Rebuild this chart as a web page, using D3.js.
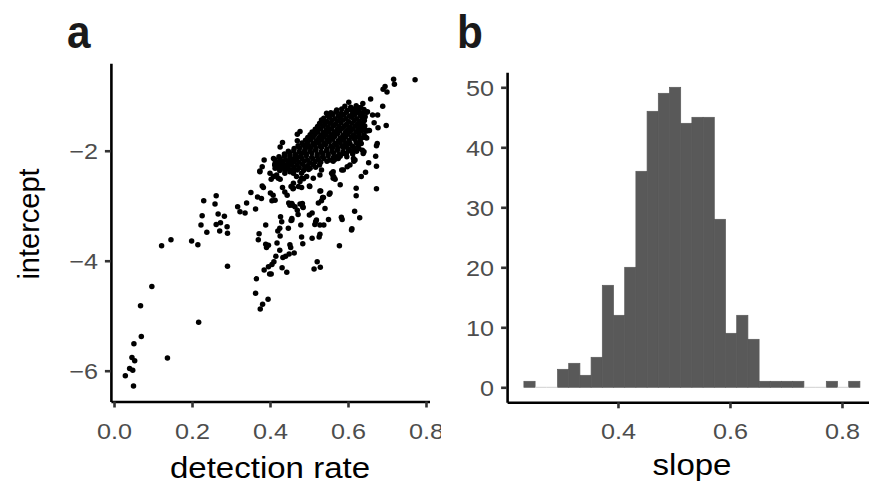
<!DOCTYPE html>
<html><head><meta charset="utf-8">
<script src="https://cdn.jsdelivr.net/npm/d3@7"></script>
<style>body{margin:0;background:#fff}svg{display:block}</style>
</head><body>
<svg id="c" width="869" height="485"></svg>
<script>
// ---------- DATA ----------
// panel a: detection rate vs intercept (sparse outer points)
const tailPoints = [
[0.029,-6.09],[0.050,-6.28],[0.040,-5.96],[0.048,-5.99],[0.046,-5.76],[0.053,-5.82],[0.051,-5.51],[0.070,-5.38],[0.137,-5.77],[0.068,-4.82],[0.097,-4.47],[0.217,-5.12],[0.122,-3.73],[0.146,-3.62],[0.199,-3.64],[0.215,-3.71],[0.238,-3.48],[0.271,-3.46],[0.291,-3.50],[0.291,-4.10]
];
const lowerPoints = [
[0.372,-3.51],[0.370,-3.62],[0.389,-3.70],[0.396,-3.72],[0.391,-3.76],[0.418,-3.68],[0.425,-3.81],[0.420,-3.46],[0.426,-3.55],[0.451,-3.71],[0.453,-3.76],[0.481,-3.57],[0.484,-3.69],[0.508,-3.59],[0.528,-3.52],[0.526,-3.57],[0.578,-3.73],[0.609,-3.44],[0.462,-3.86],[0.449,-3.88],[0.440,-3.92],[0.433,-3.94],[0.415,-3.92],[0.410,-4.02],[0.405,-4.07],[0.396,-4.11],[0.385,-4.17],[0.399,-4.24],[0.403,-4.24],[0.431,-4.13],[0.443,-4.21],[0.521,-4.02],[0.513,-4.15],[0.529,-4.12],[0.365,-4.33],[0.363,-4.59],[0.395,-4.70],[0.381,-4.79],[0.375,-4.88]
];
const middlePoints = [
[0.230,-2.91],[0.262,-2.82],[0.259,-2.97],[0.226,-3.18],[0.267,-3.15],[0.283,-3.19],[0.223,-3.35],[0.262,-3.34],[0.273,-3.31],[0.290,-3.38],
[0.317,-3.02],[0.323,-3.11],[0.336,-3.13],[0.340,-2.95],[0.351,-2.76],[0.363,-3.06],[0.368,-2.84],[0.378,-2.87],[0.380,-2.64],[0.383,-2.67],[0.374,-2.37],[0.380,-2.29],[0.385,-2.17],[0.389,-3.35],
[0.401,-2.77],[0.408,-2.81],[0.405,-2.91],[0.413,-2.90],[0.403,-2.52],[0.410,-2.47],[0.427,-3.20],[0.430,-3.29],[0.425,-3.41],
[0.432,-2.67],[0.438,-2.75],[0.444,-2.81],[0.448,-2.95],[0.451,-2.99],[0.454,-2.65],[0.459,-2.69],[0.464,-3.02],[0.470,-3.08],[0.472,-3.16],[0.456,-3.23],[0.454,-3.27],[0.479,-3.35],[0.447,-3.41],[0.483,-2.96],[0.484,-3.02],[0.502,-2.65],[0.481,-2.67],[0.486,-2.51],[0.501,-3.17],[0.508,-3.13],[0.517,-3.29],[0.528,-3.35],[0.538,-3.35],
[0.524,-2.95],[0.532,-2.91],[0.541,-3.05],[0.552,-2.79],[0.530,-2.73],[0.535,-2.85],[0.550,-3.25],[0.561,-2.44],[0.564,-2.48],[0.567,-2.52],[0.580,-2.62],[0.583,-3.21],[0.585,-3.25],[0.610,-3.42],[0.617,-3.10],[0.630,-3.22],[0.621,-2.68],[0.621,-2.82],[0.634,-2.47],[0.645,-2.39],[0.653,-2.22],[0.671,-2.10],[0.673,-2.28],[0.673,-2.69],[0.675,-1.87],[0.673,-1.91],[0.637,-1.99],[0.641,-2.02],[0.645,-1.76],[0.614,-2.14],[0.615,-2.19],[0.598,-2.29],[0.588,-2.35],[0.562,-2.19],[0.568,-2.15],
[0.698,-1.54],[0.677,-1.58],[0.667,-1.49],[0.663,-1.35],[0.676,-1.35],[0.653,-1.63],[0.645,-1.63],[0.638,-1.50],[0.689,-1.19],[0.648,-1.30],[0.658,-1.06],[0.638,-1.14],[0.602,-1.12],[0.717,-0.70],[0.719,-0.79],[0.772,-0.71],[0.695,-0.83],[0.690,-0.88],[0.700,-0.93],
[0.532,-1.44],[0.477,-1.65],[0.470,-1.70],[0.432,-1.85],[0.426,-1.93],[0.470,-1.82],
[0.629,-1.22],[0.622,-1.26],[0.614,-1.29],[0.607,-1.25],[0.650,-1.29],[0.648,-1.64],[0.655,-1.63],[0.644,-1.75],
[0.409,-2.14],[0.413,-2.23],[0.426,-2.17],[0.421,-2.29],[0.434,-2.26],[0.451,-2.08],[0.447,-2.20],[0.438,-2.35],[0.451,-2.38],[0.400,-2.41],[0.409,-2.47],[0.417,-2.44],[0.460,-2.41],[0.468,-2.47],[0.481,-2.41],[0.494,-2.47],[0.511,-2.50],[0.528,-2.44],[0.532,-2.35],[0.558,-2.41],[0.584,-2.35],[0.503,-1.75],[0.494,-1.93],[0.481,-2.05],[0.468,-2.11],[0.460,-2.17],[0.519,-1.62],[0.528,-1.50],[0.537,-1.44],[0.545,-1.32],[0.571,-1.29],[0.579,-1.38],
[0.562,-2.38],[0.554,-2.77],[0.605,-2.26],[0.618,-2.17],[0.614,-1.99],[0.639,-2.05],[0.648,-1.77],[0.571,-2.11],[0.575,-2.14],[0.588,-2.05],[0.601,-1.99],[0.592,-1.93],[0.605,-1.87],[0.626,-1.75],[0.609,-1.75],
[0.426,-2.52],[0.456,-2.96],[0.456,-3.26],[0.374,-2.38],[0.413,-2.32],[0.417,-2.23],[0.421,-2.50],[0.438,-2.41],[0.443,-2.29],[0.460,-2.35],[0.460,-2.59],[0.473,-2.65],
[0.481,-2.50],[0.477,-2.56],[0.460,-2.68],[0.501,-2.64],[0.528,-2.73],[0.537,-2.85],[0.562,-2.50],[0.458,-2.99],[0.477,-2.97],[0.485,-3.03],[0.519,-3.26],[0.515,-3.34]
];
// dense core (estimated)
const corePoints = [
[0.592,-1.19],[0.607,-1.21],[0.621,-1.18],[0.633,-1.22],
[0.571,-1.26],[0.584,-1.24],[0.598,-1.27],[0.613,-1.24],[0.628,-1.27],[0.641,-1.25],
[0.556,-1.31],[0.569,-1.29],[0.583,-1.32],[0.596,-1.30],[0.611,-1.33],[0.624,-1.30],[0.637,-1.32],
[0.548,-1.36],[0.561,-1.34],[0.575,-1.37],[0.590,-1.35],[0.604,-1.37],[0.617,-1.34],[0.631,-1.36],[0.644,-1.38],
[0.538,-1.41],[0.552,-1.39],[0.566,-1.42],[0.580,-1.40],[0.595,-1.42],[0.609,-1.39],[0.622,-1.42],[0.636,-1.40],
[0.533,-1.46],[0.546,-1.47],[0.559,-1.45],[0.573,-1.46],[0.587,-1.44],[0.601,-1.47],[0.616,-1.45],[0.629,-1.47],[0.642,-1.45],
[0.527,-1.51],[0.541,-1.52],[0.554,-1.50],[0.568,-1.52],[0.582,-1.49],[0.596,-1.52],[0.610,-1.50],[0.624,-1.52],[0.636,-1.50],
[0.522,-1.56],[0.536,-1.55],[0.549,-1.57],[0.563,-1.54],[0.577,-1.56],[0.591,-1.55],[0.604,-1.57],[0.618,-1.55],[0.632,-1.57],[0.643,-1.55],
[0.516,-1.61],[0.530,-1.60],[0.544,-1.62],[0.558,-1.60],[0.572,-1.61],[0.586,-1.59],[0.599,-1.62],[0.613,-1.60],[0.626,-1.61],[0.639,-1.60],
[0.508,-1.66],[0.522,-1.65],[0.536,-1.67],[0.551,-1.65],[0.565,-1.66],[0.579,-1.64],[0.593,-1.67],[0.606,-1.65],[0.620,-1.66],[0.633,-1.64],
[0.503,-1.71],[0.516,-1.70],[0.530,-1.72],[0.544,-1.70],[0.558,-1.71],[0.573,-1.69],[0.587,-1.72],[0.600,-1.70],[0.614,-1.72],[0.628,-1.70],[0.641,-1.71],
[0.497,-1.76],[0.511,-1.75],[0.525,-1.77],[0.539,-1.75],[0.552,-1.76],[0.566,-1.74],[0.580,-1.77],[0.594,-1.75],[0.618,-1.76],[0.635,-1.77],
[0.491,-1.81],[0.505,-1.80],[0.519,-1.82],[0.533,-1.80],[0.547,-1.81],[0.561,-1.79],[0.575,-1.82],[0.589,-1.80],[0.603,-1.81],[0.617,-1.79],[0.631,-1.82],
[0.482,-1.86],[0.496,-1.85],[0.510,-1.87],[0.524,-1.85],[0.538,-1.86],[0.552,-1.84],[0.566,-1.87],[0.580,-1.85],[0.594,-1.86],[0.621,-1.85],[0.634,-1.87],
[0.472,-1.91],[0.486,-1.90],[0.500,-1.92],[0.514,-1.90],[0.528,-1.91],[0.542,-1.89],[0.556,-1.92],[0.570,-1.90],[0.584,-1.91],[0.598,-1.89],[0.612,-1.92],[0.626,-1.90],
[0.462,-1.96],[0.476,-1.95],[0.490,-1.97],[0.504,-1.95],[0.518,-1.96],[0.532,-1.94],[0.546,-1.97],[0.560,-1.95],[0.574,-1.96],[0.588,-1.94],[0.602,-1.97],[0.616,-1.95],[0.628,-1.96],
[0.447,-2.01],[0.461,-2.00],[0.475,-2.02],[0.489,-2.00],[0.503,-2.01],[0.517,-1.99],[0.531,-2.02],[0.545,-2.00],[0.559,-2.01],[0.573,-1.99],[0.587,-2.02],[0.604,-2.00],[0.622,-2.01],
[0.437,-2.06],[0.451,-2.05],[0.465,-2.07],[0.479,-2.05],[0.493,-2.06],[0.507,-2.04],[0.521,-2.07],[0.535,-2.05],[0.549,-2.06],[0.563,-2.04],[0.577,-2.07],[0.596,-2.05],[0.612,-2.06],
[0.423,-2.11],[0.437,-2.10],[0.451,-2.12],[0.465,-2.10],[0.479,-2.11],[0.493,-2.09],[0.507,-2.12],[0.521,-2.10],[0.535,-2.11],[0.549,-2.09],[0.563,-2.12],[0.580,-2.10],[0.597,-2.11],
[0.412,-2.16],[0.426,-2.15],[0.440,-2.17],[0.454,-2.15],[0.468,-2.16],[0.482,-2.14],[0.496,-2.17],[0.510,-2.15],[0.524,-2.16],[0.538,-2.14],[0.553,-2.17],[0.567,-2.15],
[0.418,-2.21],[0.432,-2.20],[0.446,-2.22],[0.460,-2.20],[0.474,-2.21],[0.488,-2.19],[0.502,-2.22],[0.516,-2.20],[0.530,-2.21],[0.546,-2.19],
[0.412,-2.26],[0.426,-2.25],[0.440,-2.27],[0.455,-2.25],[0.469,-2.26],[0.483,-2.24],[0.497,-2.27],[0.511,-2.25],[0.527,-2.26],
[0.419,-2.31],[0.433,-2.30],[0.447,-2.32],[0.461,-2.30],[0.475,-2.31],[0.489,-2.29],[0.503,-2.32],[0.517,-2.30],
[0.425,-2.36],[0.439,-2.35],[0.455,-2.37],[0.470,-2.35],[0.486,-2.36],[0.499,-2.34]
];
// panel b: histogram of slope
const slopeBinStart = 0.232;
const slopeBinWidth = 0.02;
const slopeCounts = [1,0,0,3,4,2,5,17,12,20,36,46,49,50,44,45,45,28,9,12,8,1,1,1,1,0,0,1,0,1];
// ticks and labels
const xTicksA = [0, 0.2, 0.4, 0.6, 0.8];
const yTicksA = [-6, -4, -2];
const xTicksB = [0.4, 0.6, 0.8];
const yTicksB = [0, 10, 20, 30, 40, 50];
const panelLabels = ["a", "b"];
const axisTitles = {ax: "detection rate", ay: "intercept", bx: "slope"};

// ---------- DRAW ----------
const svg = d3.select("#c");
const FONT = "'Liberation Sans', Arial, Helvetica, sans-serif";
const SX = 1.12;
const tickColor = "#333333", labColor = "#4d4d4d";

svg.append("defs").append("clipPath").attr("id", "clipA")
  .append("rect").attr("x", 0).attr("y", 0).attr("width", 441).attr("height", 485);

function styleAxis(g, orient) {
  g.select(".domain").attr("stroke", "#000").attr("stroke-width", 2.6);
  g.selectAll(".tick line").attr("stroke", tickColor).attr("stroke-width", 2.6);
  g.selectAll(".tick text").attr("fill", labColor).attr("font-size", 22.5).attr("font-family", FONT);
  if (orient === "bottom") {
    g.selectAll(".tick text").attr("y", null).attr("dy", null)
      .attr("transform", `translate(0,37) scale(${SX},1)`);
  } else {
    g.selectAll(".tick text").attr("x", null).attr("dy", "0.36em")
      .attr("transform", `translate(-13,0) scale(${SX},1)`);
  }
}

// Panel a (clipped at its right edge like the reference)
const pa = svg.append("g").attr("clip-path", "url(#clipA)");
const xA = d3.scaleLinear().domain([-0.008, 0.809]).range([110.9, 429.5]);
const yA = d3.scaleLinear().domain([-6.56, -0.41]).range([401.5, 63.3]);
const allPts = tailPoints.concat(lowerPoints, middlePoints, corePoints);
pa.append("g").selectAll("circle").data(allPts).join("circle")
  .attr("cx", d => xA(d[0])).attr("cy", d => yA(d[1])).attr("r", 2.75).attr("fill", "#000");

const gxA = pa.append("g").attr("transform", `translate(0,${yA.range()[0]})`)
  .call(d3.axisBottom(xA).tickValues(xTicksA).tickFormat(d3.format(".1f")).tickSizeInner(6).tickSizeOuter(0));
styleAxis(gxA, "bottom");
const gyA = pa.append("g").attr("transform", `translate(${xA.range()[0]},0)`)
  .call(d3.axisLeft(yA).tickValues(yTicksA).tickFormat(d3.format("d")).tickSizeInner(6).tickSizeOuter(0));
styleAxis(gyA, "left");

// Panel b
const xB = d3.scaleLinear().domain([0.202, 0.862]).range([507.1, 876.7]);
const yB = d3.scaleLinear().domain([-2.5, 52.5]).range([402.3, 72.3]);
const bins = slopeCounts.map((c, i) => ({x0: slopeBinStart + i * slopeBinWidth, x1: slopeBinStart + (i + 1) * slopeBinWidth, c}));
svg.append("g").selectAll("rect").data(bins.filter(b => b.c > 0)).join("rect")
  .attr("x", b => xB(b.x0)).attr("width", b => xB(b.x1) - xB(b.x0))
  .attr("y", b => yB(b.c)).attr("height", b => yB(0) - yB(b.c))
  .attr("fill", "#595959").attr("stroke", "#595959").attr("stroke-width", 0.7);
svg.append("g").selectAll("line").data(bins.filter(b => b.c === 0)).join("line")
  .attr("x1", b => xB(b.x0)).attr("x2", b => xB(b.x1))
  .attr("y1", yB(0)).attr("y2", yB(0)).attr("stroke", "#d0d0d0").attr("stroke-width", 1);

const gxB = svg.append("g").attr("transform", `translate(0,${yB.range()[0]})`)
  .call(d3.axisBottom(xB).tickValues(xTicksB).tickFormat(d3.format(".1f")).tickSizeInner(6).tickSizeOuter(0));
styleAxis(gxB, "bottom");
const gyB = svg.append("g").attr("transform", `translate(${xB.range()[0]},0)`)
  .call(d3.axisLeft(yB).tickValues(yTicksB).tickFormat(d3.format("d")).tickSizeInner(6).tickSizeOuter(0));
styleAxis(gyB, "left");

// Axis titles
svg.append("text").text(axisTitles.ax).attr("font-family", FONT).attr("font-size", 29.5).attr("fill", "#000")
  .attr("text-anchor", "middle").attr("transform", `translate(270,478) scale(${SX},1)`);
svg.append("text").text(axisTitles.bx).attr("font-family", FONT).attr("font-size", 29.5).attr("fill", "#000")
  .attr("text-anchor", "middle").attr("transform", `translate(692,475) scale(${SX},1)`);
svg.append("text").text(axisTitles.ay).attr("font-family", FONT).attr("font-size", 29).attr("fill", "#000")
  .attr("text-anchor", "middle").attr("transform", `translate(39,224) rotate(-90)`);

// Panel letters
svg.append("text").text(panelLabels[0]).attr("font-family", FONT).attr("font-weight", "bold").attr("font-size", 47)
  .attr("fill", "#1a1a1a").attr("transform", "translate(67,48) scale(0.9,1)");
svg.append("text").text(panelLabels[1]).attr("font-family", FONT).attr("font-weight", "bold").attr("font-size", 47)
  .attr("fill", "#1a1a1a").attr("transform", "translate(457,48) scale(0.9,1)");
</script>
</body></html>
